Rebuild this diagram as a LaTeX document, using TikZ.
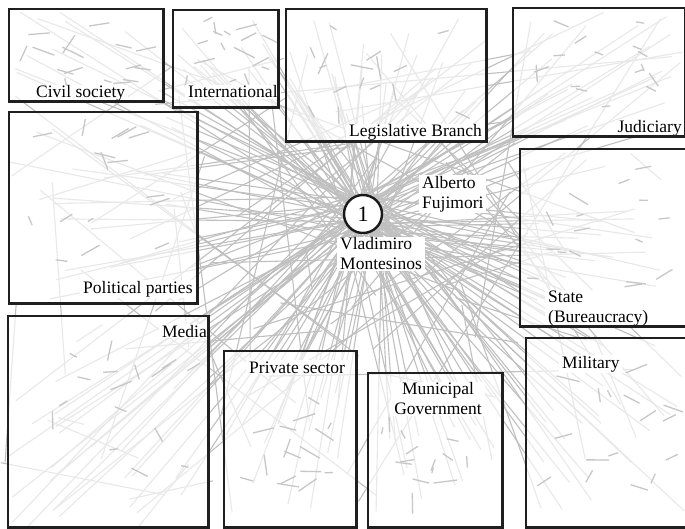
\documentclass[tikz,border=0pt]{standalone}
\usepackage{fontspec}
\setmainfont{Liberation Serif}
\usetikzlibrary{positioning,calc}

\tikzset{
  sector/.style={fill=white, fill opacity=0.65, minimum width=#1, anchor=north west, inner sep=0pt},
  frame/.style={draw=black!88, line width=2.8pt},
  tag/.style={fill=white, inner xsep=3pt, inner ysep=1pt, font=\fontsize{17.5}{20}\selectfont},
  tie/.style={draw=black!25, line width=1.1pt},
  speck/.style={draw=black!22, line width=1.3pt},
  actor/.style={circle, draw=black!90, fill=white, line width=2.4pt, minimum size=38pt, inner sep=0pt, font=\fontsize{22}{24}\selectfont},
}

\begin{document}
\begin{tikzpicture}[x=1pt,y=-1pt]
        \useasboundingbox (0,0) rectangle (685,529);
        \clip (0,0) rectangle (685,529);
        \pgfmathsetseed{1234}
        \coordinate (hub) at (363,214);
        % ties of the hub to every sector
        \foreach \xa/\ya/\xb/\yb/\n in {9/9/163/101/9, 173/10/278/107/12, 286/9/486/141/26,
                 513/8/685/136/20, 9/112/197/303/20, 520/149/685/326/24, 8/316/208/529/22,
                 224/351/356/527/18, 368/373/502/527/18, 526/338/685/527/20}{
          \foreach \k in {1,...,\n}{
            \pgfmathsetmacro\px{\xa+rnd*(\xb-\xa)}
            \pgfmathsetmacro\py{\ya+rnd*(\yb-\ya)}
            \pgfmathsetmacro\hx{(rnd-0.5)*40}
            \pgfmathsetmacro\hy{(rnd-0.5)*40}
            \draw[tie] ([shift={(\hx,\hy)}]hub) -- (\px,\py);
          }
        }
        % ties between the other actors
        \foreach \k in {1,...,75}{
          \pgfmathsetmacro\ax{rnd*685}
          \pgfmathsetmacro\ay{rnd*529}
          \pgfmathsetmacro\bx{rnd*685}
          \pgfmathsetmacro\by{rnd*529}
          \draw[tie] (\ax,\ay) -- (\bx,\by);
        }
        % sectors
        \node[sector=154pt, minimum height=92pt]  (civ)   at (9,9)     {};
        \node[sector=105pt, minimum height=97pt]  (intl)  at (173,10)  {};
        \node[sector=200pt, minimum height=132pt] (leg)   at (286,9)   {};
        \node[sector=172pt, minimum height=128pt] (jud)   at (513,8)   {};
        \node[sector=188pt, minimum height=191pt] (pol)   at (9,112)   {};
        \node[sector=166pt, minimum height=177pt] (state) at (520,149) {};
        \node[sector=200pt, minimum height=211pt] (media) at (8,316)   {};
        \node[sector=132pt, minimum height=176pt] (priv)  at (224,351) {};
        \node[sector=134pt, minimum height=154pt] (muni)  at (368,373) {};
        \node[sector=160pt, minimum height=189pt] (mil)   at (526,338) {};
        % faint actors inside the sectors
        \foreach \b in {civ,intl,leg,jud,pol,state,media,priv,muni,mil}{
          \foreach \k in {1,...,16}{
            \pgfmathsetmacro\sx{0.1+0.8*rnd}
            \pgfmathsetmacro\sy{0.1+0.7*rnd}
            \pgfmathsetmacro\sa{(rnd-0.5)*70+180*round(rnd*0.6)+90*round(rnd*0.65)}
            \pgfmathsetmacro\sl{6+rnd*18}
            \draw[speck] ($($(\b.north west)!\sx!(\b.north east)$)!\sy!($(\b.south west)!\sx!(\b.south east)$)$) -- ++(\sa:\sl);
          }
        }
        % labels
        \node[tag, anchor=base west] (civ_l)   at (33,98)   {Civil society};
        \node[tag, anchor=base west] (intl_l)  at (185,98)  {International};
        \node[tag, anchor=base west] (leg_l)   at (346,137) {Legislative Branch};
        \node[tag, anchor=base east] (jud_l)   at (685,133) {Judiciary};
        \node[tag, anchor=base west] (pol_l)   at (80,293)  {Political parties};
        \node[tag, anchor=west, align=left] (state_l) at (545,309) {State\\(Bureaucracy)};
        \node[tag, anchor=base east] (media_l) at (210,337) {Media};
        \node[tag, anchor=base west] (priv_l)  at (246,373) {Private sector};
        \node[tag, align=center] (muni_l) at (438,399) {Municipal\\Government};
        \node[tag, anchor=base west] (mil_l)   at (559,368) {Military};
        \node[tag, anchor=west, align=left] (af_l) at (419,194) {Alberto\\Fujimori};
        \node[tag, anchor=west, align=left] (vm_l) at (337,254) {Vladimiro\\Montesinos};
        % borders
        \foreach \b in {civ,intl,leg,jud,pol,state,media,priv,muni,mil}
          \draw[frame] (\b.north west) rectangle (\b.south east);
        \node[actor] (v_1) at (hub) {1};
\end{tikzpicture}
\end{document}
